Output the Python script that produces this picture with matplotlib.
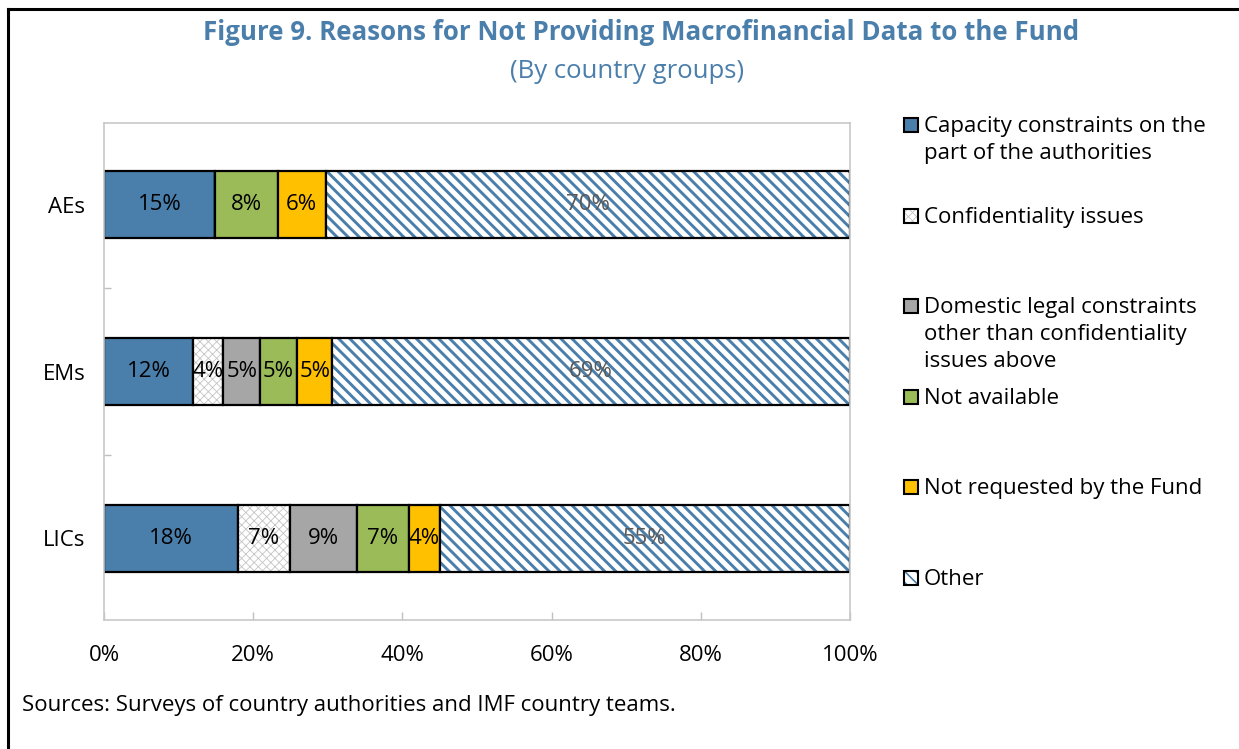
import matplotlib

matplotlib.use("Agg")
import matplotlib.pyplot as plt
from matplotlib.lines import Line2D
from matplotlib.patches import Rectangle


plt.rcParams["font.family"] = ["Open Sans", "DejaVu Sans"]

TITLE = "Figure 9. Reasons for Not Providing Macrofinancial Data to the Fund"
SUBTITLE = "(By country groups)"
SOURCE = "Sources: Surveys of country authorities and IMF country teams."

GROUPS = ["AEs", "EMs", "LICs"]

REASONS = [
    "Capacity constraints on the\npart of the authorities",
    "Confidentiality issues",
    "Domestic legal constraints\nother than confidentiality\nissues above",
    "Not available",
    "Not requested by the Fund",
    "Other",
]

# shares (%) per reason, ordered AEs, EMs, LICs
CAPACITY = [14.9, 11.9, 18.0]
CONFIDENTIALITY = [0.0, 4.1, 6.9]
LEGAL = [0.0, 4.9, 9.0]
NOT_AVAILABLE = [8.4, 5.0, 7.0]
NOT_REQUESTED = [6.4, 4.7, 4.1]
OTHER = [70.3, 69.4, 55.0]

X_TICKS = [0, 20, 40, 60, 80, 100]

BLUE = "#4a7eab"
TITLE_BLUE = "#4a7eab"
FONT_SIZE = 16

STYLES = [
    {"face": BLUE, "hatch": None, "hatch_color": None, "hatch_lw": 0},
    {"face": "white", "hatch": "xxxx", "hatch_color": "#c4c4c4", "hatch_lw": 0.6},
    {"face": "#a6a6a6", "hatch": None, "hatch_color": None, "hatch_lw": 0},
    {"face": "#9bbb59", "hatch": None, "hatch_color": None, "hatch_lw": 0},
    {"face": "#ffc000", "hatch": None, "hatch_color": None, "hatch_lw": 0},
    {"face": "white", "hatch": "\\\\\\", "hatch_color": BLUE, "hatch_lw": 2.1},
]

LABEL_COLORS = ["black", "black", "black", "black", "black", "#595959"]


def main():
    series = [CAPACITY, CONFIDENTIALITY, LEGAL, NOT_AVAILABLE, NOT_REQUESTED, OTHER]

    fig = plt.figure(figsize=(12.39, 7.49), dpi=100)
    ax = fig.add_axes([104 / 1239, 1 - 620 / 749, 746 / 1239, 497 / 749])

    positions = list(range(len(GROUPS)))
    left = [0.0] * len(GROUPS)

    for values, style, label_color in zip(series, STYLES, LABEL_COLORS):
        if style["hatch"]:
            with plt.rc_context({"hatch.linewidth": style["hatch_lw"]}):
                ax.barh(
                    positions, values, left=left, height=0.4,
                    color=style["face"], edgecolor=style["hatch_color"],
                    hatch=style["hatch"], linewidth=0,
                )
        bars = ax.barh(
            positions, values, left=left, height=0.4,
            color=style["face"] if not style["hatch"] else "none",
            edgecolor="black", linewidth=1.6,
        )
        labels = [f"{v:.0f}%" if v > 0 else "" for v in values]
        ax.bar_label(
            bars, labels=labels, label_type="center",
            fontsize=FONT_SIZE, color=label_color,
        )
        left = [a + b for a, b in zip(left, values)]

    ax.set_xlim(0, 100)
    ax.set_ylim(2.49, -0.49)
    ax.set_yticks(positions)
    ax.set_yticklabels(GROUPS)
    ax.set_yticks([0.5, 1.5], minor=True)
    ax.set_xticks(X_TICKS)
    ax.set_xticklabels([f"{t}%" for t in X_TICKS])

    ax.tick_params(axis="y", which="major", length=0, pad=13.5,
                   labelsize=FONT_SIZE)
    ax.tick_params(axis="y", which="minor", direction="in", length=5,
                   color="#bfbfbf", width=1)
    ax.tick_params(axis="x", direction="in", length=6, color="#bfbfbf",
                   width=1, pad=18, labelsize=FONT_SIZE)

    for spine in ax.spines.values():
        spine.set_color("#c8c8c8")
        spine.set_linewidth(1.2)

    fig.text(641 / 1239, 1 - 33 / 749, TITLE, ha="center", va="center",
             fontsize=18.6, fontweight="bold", color=TITLE_BLUE)
    fig.text(627 / 1239, 1 - 72 / 749, SUBTITLE, ha="center", va="center",
             fontsize=18.5, color=TITLE_BLUE)
    fig.text(22 / 1239, 1 - 705 / 749, SOURCE, ha="left", va="center",
             fontsize=FONT_SIZE)

    # legend laid out like the source chart: evenly spaced, text top-aligned
    for i, (reason, style) in enumerate(zip(REASONS, STYLES)):
        y_px = 125 + i * 90.6
        box_xy = (904 / 1239, 1 - (y_px + 7) / 749)
        box_w, box_h = 14 / 1239, 14 / 749
        if style["hatch"]:
            with plt.rc_context({"hatch.linewidth": min(style["hatch_lw"], 1.2)}):
                fig.patches.append(Rectangle(
                    box_xy, box_w, box_h, transform=fig.transFigure,
                    facecolor=style["face"], edgecolor=style["hatch_color"],
                    hatch=style["hatch"], linewidth=0,
                ))
        fig.patches.append(Rectangle(
            box_xy, box_w, box_h, transform=fig.transFigure,
            facecolor=style["face"] if not style["hatch"] else "none",
            edgecolor="black", linewidth=1.5,
        ))
        fig.text(924 / 1239, 1 - (y_px - 9) / 749, reason, ha="left",
                 va="top", fontsize=FONT_SIZE, linespacing=1.36)

    # outer frame (left and top edges visible)
    fig.add_artist(Line2D([7.5 / 1239, 7.5 / 1239], [0, 1 - 8.5 / 749],
                          transform=fig.transFigure, color="black", lw=2.2))
    fig.add_artist(Line2D([7.5 / 1239, 1], [1 - 8.5 / 749, 1 - 8.5 / 749],
                          transform=fig.transFigure, color="black", lw=2.2))

    fig.savefig("out.png", dpi=100)
    plt.close(fig)


if __name__ == "__main__":
    main()
